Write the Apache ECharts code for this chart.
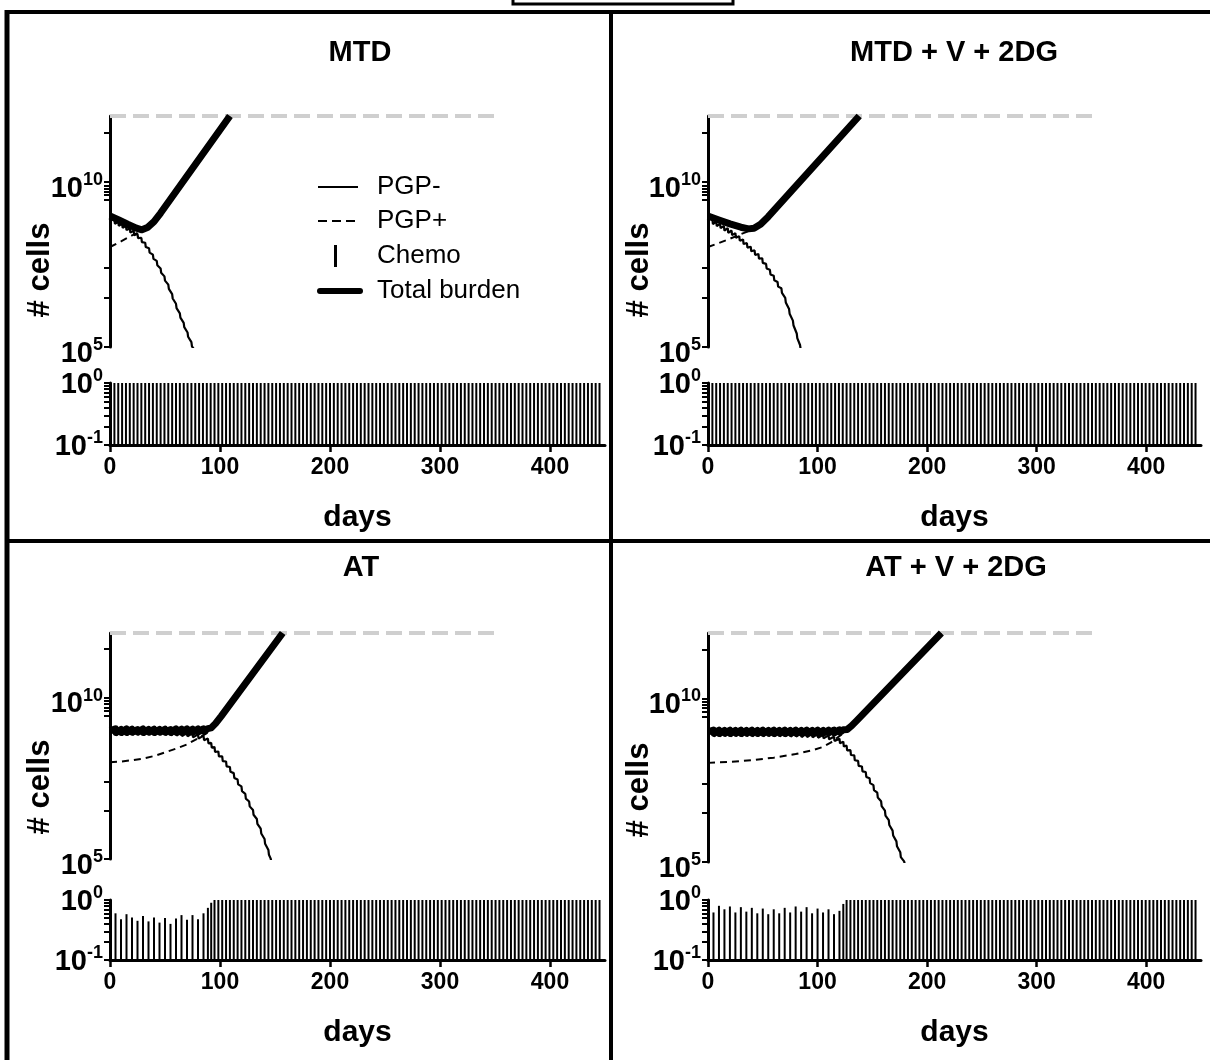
<!DOCTYPE html>
<html lang="en">
<head>
<meta charset="UTF-8">
<title>PGP- / PGP+ burden under MTD and AT</title>
<script src="https://cdn.jsdelivr.net/npm/echarts@6/dist/echarts.min.js"></script>
<style>
  body { margin: 0; background: #ffffff; }
  #chart { width: 1210px; height: 1060px; }
</style>
</head>
<body>
<div id="chart"></div>
<script>
// ---------- values ----------
// cell curves: [day, log10(# cells)]
const mtdTotal = [[0, 8.97], [8, 8.85], [16, 8.72], [24, 8.6], [29, 8.55], [34, 8.62], [40, 8.8], [46, 9.06], [109, 12.0]];
const mtdPgpPlus = [[0, 8.03], [10, 8.2], [20, 8.38], [28, 8.5], [36, 8.66], [42, 8.85], [109, 11.99]];
const mtdPgpMinus = [[0, 8.9], [4, 8.86], [4.5, 8.73], [7.5, 8.8], [8, 8.67], [11, 8.74], [11.5, 8.61], [14.5, 8.67], [15, 8.54],
  [18, 8.6], [18.5, 8.47], [21.5, 8.52], [22, 8.39], [25, 8.43], [25.5, 8.3], [28.5, 8.31], [29, 8.18], [32, 8.16], [32.5, 8.03],
  [35.5, 7.99], [36, 7.86], [39, 7.8], [39.5, 7.67], [42.5, 7.61], [43, 7.48], [46, 7.38], [46.5, 7.25], [49.5, 7.14], [50, 7.01],
  [53, 6.89], [53.5, 6.76], [56.5, 6.6], [57, 6.47], [60, 6.31], [60.5, 6.18], [63.5, 6.02], [64, 5.89], [67, 5.73], [67.5, 5.6],
  [70.5, 5.44], [71, 5.31], [74, 5.15], [74.5, 5.02], [76, 4.95]];

const mtdvTotal = [[0, 8.97], [10, 8.85], [20, 8.73], [30, 8.63], [37, 8.58], [42, 8.6], [48, 8.72], [55, 8.95], [138, 12.0]];
const mtdvPgpPlus = [[0, 8.03], [10, 8.15], [20, 8.28], [30, 8.42], [38, 8.52], [44, 8.6], [50, 8.74], [55, 8.9], [138, 11.98]];
const mtdvPgpMinus = [[0, 8.9], [4, 8.86], [4.5, 8.72], [7.5, 8.8], [8, 8.66], [11, 8.74], [11.5, 8.6], [14.5, 8.67], [15, 8.53],
  [18, 8.6], [18.5, 8.46], [21.5, 8.53], [22, 8.39], [25, 8.45], [25.5, 8.31], [28.5, 8.36], [29, 8.22], [32, 8.26], [32.5, 8.12],
  [35.5, 8.15], [36, 8.01], [39, 8.04], [39.5, 7.9], [42.5, 7.93], [43, 7.79], [46, 7.82], [46.5, 7.68], [49.5, 7.69], [50, 7.55],
  [53, 7.52], [53.5, 7.38], [56.5, 7.34], [57, 7.2], [60, 7.16], [60.5, 7.02], [63.5, 6.97], [64, 6.83], [67, 6.78], [67.5, 6.64],
  [70.5, 6.49], [71, 6.35], [74, 6.15], [74.5, 6.01], [77.5, 5.8], [78, 5.66], [81, 5.41], [81.5, 5.27], [84, 5.06], [84.5, 4.95]];

const atTotal = [[0, 8.97], [5, 9.03], [5.5, 8.92], [10, 9.01], [10.5, 8.92], [15, 9.03], [15.5, 8.92], [20, 9.02], [20.5, 8.93],
  [25, 9.01], [25.5, 8.93], [30, 9.03], [30.5, 8.92], [35, 9.01], [35.5, 8.93], [40, 9.02], [40.5, 8.92], [45, 9.01], [45.5, 8.93],
  [50, 9.02], [50.5, 8.93], [55, 9.01], [55.5, 8.92], [60, 9.03], [60.5, 8.93], [65, 9.02], [65.5, 8.92], [70, 9.03], [70.5, 8.93],
  [75, 9.02], [75.5, 8.93], [80, 9.03], [80.5, 8.94], [85, 9.03], [85.5, 8.95], [89, 9.04], [89.5, 8.98], [92, 9.06], [96, 9.2],
  [101, 9.42], [157, 12.0]];
const atPgpPlus = [[0, 8.0], [10, 8.02], [20, 8.06], [30, 8.11], [40, 8.19], [50, 8.3], [60, 8.42], [70, 8.55], [80, 8.74],
  [88, 8.9], [94, 9.04], [101, 9.4], [157, 11.99]];
const atPgpMinus = [[0, 8.92], [5, 8.96], [5.5, 8.83], [10, 8.94], [10.5, 8.84], [15, 8.96], [15.5, 8.84], [20, 8.95], [20.5, 8.85],
  [25, 8.94], [25.5, 8.85], [30, 8.96], [30.5, 8.84], [35, 8.94], [35.5, 8.85], [40, 8.95], [40.5, 8.84], [45, 8.94], [45.5, 8.85],
  [50, 8.95], [50.5, 8.84], [55, 8.93], [55.5, 8.83], [60, 8.94], [60.5, 8.82], [65, 8.92], [65.5, 8.81], [70, 8.91], [70.5, 8.8],
  [75, 8.89], [75.5, 8.77], [80, 8.86], [80.5, 8.73], [85, 8.82], [85.5, 8.68], [89, 8.73], [89.5, 8.58], [92, 8.6], [92.5, 8.45],
  [95, 8.47], [95.5, 8.32], [98.5, 8.33], [99, 8.18], [102, 8.18], [102.5, 8.03], [105.5, 8.02], [106, 7.87], [109, 7.85],
  [109.5, 7.7], [112.5, 7.66], [113, 7.51], [116, 7.46], [116.5, 7.31], [119.5, 7.25], [120, 7.1], [123, 7.02], [123.5, 6.87],
  [126.5, 6.78], [127, 6.63], [130, 6.52], [130.5, 6.37], [133.5, 6.24], [134, 6.09], [137, 5.94], [137.5, 5.79], [140.5, 5.62],
  [141, 5.47], [144, 5.28], [144.5, 5.13], [146, 5.02], [146.5, 4.95]];

const atvTotal = [[0, 8.98], [5, 9.03], [5.5, 8.94], [10, 9.03], [10.5, 8.93], [15, 9.02], [15.5, 8.94], [20, 9.03], [20.5, 8.93],
  [25, 9.02], [25.5, 8.94], [30, 9.03], [30.5, 8.93], [35, 9.02], [35.5, 8.94], [40, 9.03], [40.5, 8.94], [45, 9.02], [45.5, 8.93],
  [50, 9.03], [50.5, 8.94], [55, 9.02], [55.5, 8.94], [60, 9.03], [60.5, 8.93], [65, 9.02], [65.5, 8.94], [70, 9.03], [70.5, 8.93],
  [75, 9.02], [75.5, 8.94], [80, 9.03], [80.5, 8.94], [85, 9.02], [85.5, 8.94], [90, 9.03], [90.5, 8.94], [95, 9.02], [95.5, 8.94],
  [100, 9.03], [100.5, 8.94], [105, 9.02], [105.5, 8.94], [110, 9.03], [110.5, 8.95], [115, 9.03], [115.5, 8.95], [120, 9.04],
  [120.5, 8.97], [123.5, 9.04], [124, 8.99], [127, 9.05], [131, 9.16], [136, 9.33], [213, 12.0]];
const atvPgpPlus = [[0, 8.03], [20, 8.06], [40, 8.11], [60, 8.19], [80, 8.3], [96, 8.42], [105, 8.52], [112, 8.65], [118, 8.8],
  [124, 8.95], [130, 9.12], [136, 9.32], [213, 11.99]];
const atvPgpMinus = [[0, 8.92], [5, 8.96], [5.5, 8.84], [10, 8.95], [10.5, 8.84], [15, 8.96], [15.5, 8.85], [20, 8.95], [20.5, 8.84],
  [25, 8.96], [25.5, 8.85], [30, 8.95], [30.5, 8.84], [35, 8.96], [35.5, 8.85], [40, 8.95], [40.5, 8.84], [45, 8.96], [45.5, 8.85],
  [50, 8.95], [50.5, 8.84], [55, 8.96], [55.5, 8.85], [60, 8.95], [60.5, 8.84], [65, 8.95], [65.5, 8.84], [70, 8.95], [70.5, 8.84],
  [75, 8.94], [75.5, 8.83], [80, 8.94], [80.5, 8.83], [85, 8.93], [85.5, 8.82], [90, 8.93], [90.5, 8.82], [95, 8.92], [95.5, 8.81],
  [100, 8.91], [100.5, 8.8], [105, 8.89], [105.5, 8.78], [110, 8.87], [110.5, 8.75], [115, 8.83], [115.5, 8.7], [120, 8.77],
  [120.5, 8.63], [123.5, 8.68], [124, 8.53], [126.5, 8.56], [127, 8.41], [130, 8.42], [130.5, 8.27], [133.5, 8.26], [134, 8.11],
  [137, 8.09], [137.5, 7.94], [140.5, 7.92], [141, 7.77], [144, 7.75], [144.5, 7.6], [147.5, 7.56], [148, 7.41], [151, 7.35],
  [151.5, 7.2], [154.5, 7.12], [155, 6.97], [158, 6.86], [158.5, 6.71], [161.5, 6.57], [162, 6.42], [165, 6.28], [165.5, 6.13],
  [168.5, 5.96], [169, 5.81], [172, 5.63], [172.5, 5.48], [175.5, 5.3], [176, 5.15], [179, 5.02], [179.5, 4.95]];

// lethal burden reference (grey dashed)
const thresholdLine = [[0, 12], [352, 12]];

// chemo: full-dose days (MTD schedule) and the reduced AT doses before the switch
const fullDoseDays = [4, 7.5, 11, 14.5, 18, 21.5, 25, 28.5, 32, 35.5, 39, 42.5, 46, 49.5, 53, 56.5, 60, 63.5, 67, 70.5,
  74, 77.5, 81, 84.5, 88, 91.5, 95, 98.5, 102, 105.5, 109, 112.5, 116, 119.5, 123, 126.5, 130, 133.5, 137, 140.5,
  144, 147.5, 151, 154.5, 158, 161.5, 165, 168.5, 172, 175.5, 179, 182.5, 186, 189.5, 193, 196.5, 200, 203.5, 207, 210.5,
  214, 217.5, 221, 224.5, 228, 231.5, 235, 238.5, 242, 245.5, 249, 252.5, 256, 259.5, 263, 266.5, 270, 273.5, 277, 280.5,
  284, 287.5, 291, 294.5, 298, 301.5, 305, 308.5, 312, 315.5, 319, 322.5, 326, 329.5, 333, 336.5, 340, 343.5, 347, 350.5,
  354, 357.5, 361, 364.5, 368, 371.5, 375, 378.5, 382, 385.5, 389, 392.5, 396, 399.5, 403, 406.5, 410, 413.5, 417, 420.5,
  424, 427.5, 431, 434.5, 438, 441.5, 445];
const fullDose = 1;
const atDoseDays = [5, 10, 15, 20, 25, 30, 35, 40, 45, 50, 55, 60, 65, 70, 75, 80, 85, 89, 92];
const atDoses = [0.60, 0.48, 0.58, 0.51, 0.45, 0.54, 0.44, 0.51, 0.42, 0.50, 0.40, 0.49, 0.56, 0.47, 0.56, 0.48, 0.60, 0.74, 0.90];
const atvDoseDays = [5, 10, 15, 20, 25, 30, 35, 40, 45, 50, 55, 60, 65, 70, 75, 80, 85, 90, 95, 100, 105, 110, 115, 120, 123.5];
const atvDoses = [0.62, 0.80, 0.70, 0.78, 0.62, 0.76, 0.64, 0.74, 0.60, 0.72, 0.58, 0.70, 0.60, 0.74, 0.62, 0.78, 0.64, 0.76,
  0.60, 0.72, 0.62, 0.70, 0.58, 0.66, 0.86];

// axis ticks / labels
const dayTicks = [0, 100, 200, 300, 400];
const cellTickExps = [5, 6.5, 7.4, 9.45, 9.6, 9.7, 9.8, 9.9, 10, 11.5];
const cellLabelExps = [5, 10];
const chemoTicks = [0.1, 0.2, 0.3, 0.4, 0.5, 0.6, 0.7, 0.8, 0.9, 1];
const chemoLabels = [0.1, 1];
const legendNames = ['PGP-', 'PGP+', 'Chemo', 'Total burden'];

// ---------- chart ----------
const font = "'Liberation Sans', Arial, sans-serif";
const toCells = pts => pts.map(([d, e]) => [d, Math.pow(10, e)]);
const doseBars = (days, doses) => days.map((d, i) => [d, doses[i]]);
const fullAfter = day => fullDoseDays.filter(d => d > day).map(d => [d, fullDose]);

const panels = [
  { title: 'MTD', total: mtdTotal, plus: mtdPgpPlus, minus: mtdPgpMinus, chemo: fullAfter(0),
    left: 110, width: 495, cellTop: 116, cellHeight: 231, chemoTop: 383, chemoHeight: 62, titleX: 360, titleTop: 38, nameXY: [40, 270] },
  { title: 'MTD + V + 2DG', total: mtdvTotal, plus: mtdvPgpPlus, minus: mtdvPgpMinus, chemo: fullAfter(0),
    left: 708, width: 493, cellTop: 116, cellHeight: 231, chemoTop: 383, chemoHeight: 62, titleX: 954, titleTop: 38, nameXY: [639, 270] },
  { title: 'AT', total: atTotal, plus: atPgpPlus, minus: atPgpMinus,
    chemo: doseBars(atDoseDays, atDoses).concat(fullAfter(93)),
    left: 110, width: 495, cellTop: 633, cellHeight: 226, chemoTop: 900, chemoHeight: 60, titleX: 361, titleTop: 553, nameXY: [40, 787] },
  { title: 'AT + V + 2DG', total: atvTotal, plus: atvPgpPlus, minus: atvPgpMinus,
    chemo: doseBars(atvDoseDays, atvDoses).concat(fullAfter(124)),
    left: 708, width: 493, cellTop: 633, cellHeight: 229, chemoTop: 900, chemoHeight: 60, titleX: 956, titleTop: 553, nameXY: [639, 790] }
];

const powerLabel = v => '{b|10}{s|' + Math.round(Math.log10(v)) + '}';
const powerRich = {
  b: { fontSize: 29, fontWeight: 'bold', fontFamily: font, color: '#000', lineHeight: 32, verticalAlign: 'bottom' },
  s: { fontSize: 18, fontWeight: 'bold', fontFamily: font, color: '#000', lineHeight: 19, verticalAlign: 'top' }
};
const axisLine = { show: true, lineStyle: { color: '#000', width: 3 } };

function drawDose(params, api) {
  const top = api.coord([api.value(0), api.value(1)]);
  const foot = api.coord([api.value(0), 0.1]);
  return {
    type: 'line',
    shape: { x1: top[0], y1: top[1], x2: foot[0], y2: foot[1] },
    style: { stroke: '#000', lineWidth: 2 }
  };
}

const grid = [], xAxis = [], yAxis = [], series = [], title = [], graphic = [];

panels.forEach((p, i) => {
  const gc = i * 2, gd = i * 2 + 1;
  grid.push({ left: p.left, top: p.cellTop, width: p.width, height: p.cellHeight });
  grid.push({ left: p.left, top: p.chemoTop, width: p.width, height: p.chemoHeight });

  xAxis.push({ gridIndex: gc, type: 'value', min: 0, max: 450, show: false });
  xAxis.push({
    gridIndex: gd, type: 'value', min: 0, max: 450,
    name: 'days', nameLocation: 'middle', nameGap: 58,
    nameTextStyle: { fontSize: 30, fontWeight: 'bold', fontFamily: font, color: '#000' },
    axisLine: axisLine,
    axisTick: { show: true, length: 7, lineStyle: { color: '#000', width: 2.5 }, customValues: dayTicks },
    axisLabel: { customValues: dayTicks, margin: 11, fontSize: 23, fontWeight: 'bold', fontFamily: font, color: '#000' },
    splitLine: { show: false }
  });

  yAxis.push({
    gridIndex: gc, type: 'log', logBase: 10, min: 1e5, max: 1e12,
    axisLine: axisLine,
    axisTick: { show: true, length: 6, lineStyle: { color: '#000', width: 2 },
      customValues: cellTickExps.map(e => Math.pow(10, e)) },
    axisLabel: { customValues: cellLabelExps.map(e => Math.pow(10, e)), margin: 7, padding: [10, 0, 0, 0],
      formatter: powerLabel, rich: powerRich },
    splitLine: { show: false }
  });
  yAxis.push({
    gridIndex: gd, type: 'log', logBase: 10, min: 0.1, max: 1,
    axisLine: axisLine,
    axisTick: { show: true, length: 6, lineStyle: { color: '#000', width: 2 }, customValues: chemoTicks },
    axisLabel: { customValues: chemoLabels, margin: 7, formatter: powerLabel, rich: powerRich },
    splitLine: { show: false }
  });

  series.push({
    type: 'line', xAxisIndex: gc, yAxisIndex: gc, data: toCells(thresholdLine), symbol: 'none', clip: false,
    lineStyle: { color: '#cfcfcf', width: 4, type: [16, 7] }, z: 1
  });
  series.push({
    name: 'PGP+', type: 'line', xAxisIndex: gc, yAxisIndex: gc, data: toCells(p.plus), symbol: 'none',
    lineStyle: { color: '#000', width: 2, type: [7, 5] }, z: 2
  });
  series.push({
    name: 'PGP-', type: 'line', xAxisIndex: gc, yAxisIndex: gc, data: toCells(p.minus), symbol: 'none',
    lineStyle: { color: '#000', width: 2.2 }, z: 3
  });
  series.push({
    name: 'Total burden', type: 'line', xAxisIndex: gc, yAxisIndex: gc, data: toCells(p.total), symbol: 'none', clip: false,
    lineStyle: { color: '#000', width: 7, join: 'round' }, z: 4
  });
  series.push({
    name: 'Chemo', type: 'custom', xAxisIndex: gd, yAxisIndex: gd, data: p.chemo,
    encode: { x: 0, y: 1 }, renderItem: drawDose, z: 2
  });

  title.push({
    text: p.title, left: p.titleX, top: p.titleTop, textAlign: 'center', padding: 0,
    textStyle: { fontSize: 29, fontWeight: 'bold', fontFamily: font, color: '#000' }
  });
  graphic.push({
    type: 'text', x: p.nameXY[0], y: p.nameXY[1], rotation: Math.PI / 2,
    style: { text: '# cells', font: 'bold 31px ' + font, fill: '#000', align: 'center', verticalAlign: 'middle' }
  });
});

// panel frame
const frame = { stroke: '#000', lineWidth: 4 };
graphic.push(
  { type: 'line', shape: { x1: 5, y1: 12, x2: 1210, y2: 12 }, style: frame },
  { type: 'line', shape: { x1: 7, y1: 10, x2: 7, y2: 1060 }, style: { stroke: '#000', lineWidth: 5 } },
  { type: 'line', shape: { x1: 611, y1: 10, x2: 611, y2: 1060 }, style: frame },
  { type: 'line', shape: { x1: 5, y1: 541, x2: 1210, y2: 541 }, style: frame },
  { type: 'rect', shape: { x: 513, y: -10, width: 220, height: 14 }, style: { stroke: '#000', lineWidth: 3, fill: 'none' } }
);

// legend in the MTD panel
const legendRows = [187, 221, 256, 291];
graphic.push(
  { type: 'line', shape: { x1: 318, y1: legendRows[0], x2: 358, y2: legendRows[0] }, style: { stroke: '#000', lineWidth: 2 } },
  { type: 'line', shape: { x1: 318, y1: legendRows[1], x2: 358, y2: legendRows[1] }, style: { stroke: '#000', lineWidth: 2, lineDash: [9, 5] } },
  { type: 'rect', shape: { x: 334, y: legendRows[2] - 11, width: 3, height: 22 }, style: { fill: '#000' } },
  { type: 'line', shape: { x1: 320, y1: legendRows[3], x2: 360, y2: legendRows[3] }, style: { stroke: '#000', lineWidth: 6, lineCap: 'round' } }
);
legendNames.forEach((name, i) => {
  graphic.push({
    type: 'text', x: 377, y: legendRows[i],
    style: { text: name, font: '26px ' + font, fill: '#000', verticalAlign: 'middle' }
  });
});

const chart = echarts.init(document.getElementById('chart'));
chart.setOption({
  animation: false,
  backgroundColor: '#ffffff',
  title: title,
  grid: grid,
  xAxis: xAxis,
  yAxis: yAxis,
  series: series,
  graphic: graphic
});
</script>
</body>
</html>
